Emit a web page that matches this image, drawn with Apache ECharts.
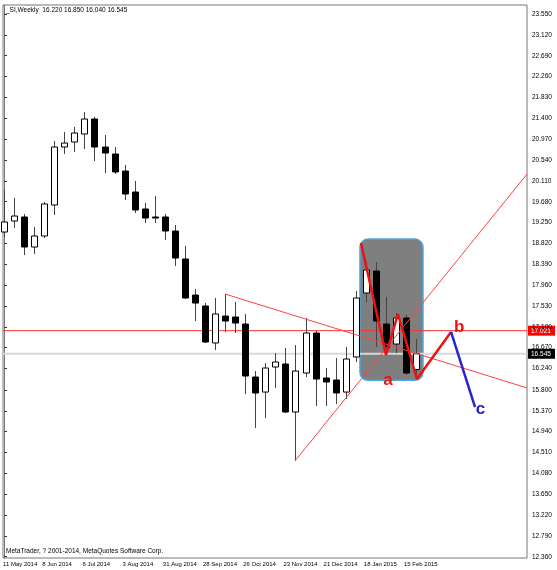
<!DOCTYPE html>
<html><head><meta charset="utf-8">
<script src="https://cdn.jsdelivr.net/npm/echarts@6/dist/echarts.min.js"></script>
<style>html,body{margin:0;padding:0;background:#fff}#c{width:557px;height:570px}</style>
</head><body><div id="c"></div>
<script>
// weekly candles, index 0 = 11 May 2014
const opens  = [19.055,19.282,19.365,18.746,18.973,19.612,20.808,20.911,21.076,21.385,20.808,20.664,20.313,19.880,19.530,19.365,19.365,19.076,18.499,17.756,17.530,16.767,17.323,17.303,17.158,16.066,15.756,16.272,16.334,15.344,16.148,16.973,16.045,16.004,15.756,16.478,17.798,18.251,17.158,16.746,17.282,16.220];
const closes = [19.262,19.385,18.746,18.973,19.633,20.808,20.890,21.097,21.385,20.808,20.684,20.293,19.839,19.509,19.344,19.344,19.076,18.519,17.695,17.591,16.787,17.365,17.220,17.179,16.086,15.736,16.251,16.375,15.344,16.189,16.973,16.024,15.963,15.736,16.437,17.695,18.272,17.220,16.664,17.282,16.148,16.545];
const lows   = [18.952,19.138,18.581,18.602,18.932,19.406,20.664,20.705,20.767,20.519,20.272,20.251,19.715,19.447,19.241,19.241,18.890,18.354,17.674,17.220,16.767,16.622,16.993,16.973,15.715,15.014,15.220,15.839,15.323,14.334,16.066,15.468,15.468,15.509,15.612,16.375,17.612,16.684,16.622,16.560,16.107,16.040];
const highs  = [19.921,19.756,19.427,19.158,19.674,20.932,21.117,21.220,21.530,21.427,21.055,20.808,20.437,20.107,19.653,19.798,19.427,19.200,18.767,17.880,17.591,17.695,17.777,17.612,17.365,16.189,16.354,16.560,16.664,16.725,17.282,17.014,16.251,16.457,16.684,17.839,18.437,18.437,17.715,17.385,17.344,16.850];
const dateTicks = [0,4,8,12,16,20,24,28,32,36,40];
const dateLabels = ['11 May 2014','8 Jun 2014','6 Jul 2014','3 Aug 2014','31 Aug 2014','28 Sep 2014','26 Oct 2014','23 Nov 2014','21 Dec 2014','18 Jan 2015','15 Feb 2015'];
const priceTicks = [12.360,12.790,13.220,13.650,14.080,14.510,14.940,15.370,15.800,16.240,16.670,17.100,17.530,17.960,18.390,18.820,19.250,19.680,20.110,20.540,20.970,21.400,21.830,22.260,22.690,23.120,23.550];
const hLineRed = 17.021, hLineGray = 16.545;
const trend1 = [[22,17.777],[52.04,15.84]];
const trend2 = [[28.95,14.334],[52.04,20.25]];
const zigzag = [[35.52,18.830],[38.01,16.520],[39.2,17.365],[41.09,16.025],[44.48,16.994]];
const waveC = [[44.48,16.994],[46.87,15.447]];
const box = [35.42,41.69,16.00,18.91];
const waveLabels = [{t:'a',x:38.2,y:16.00,c:'#ee1111'},{t:'b',x:45.3,y:17.10,c:'#ee1111'},{t:'c',x:47.4,y:15.40,c:'#2222cc'}];

const candles = opens.map((o,i)=>[i,o,closes[i],lows[i],highs[i]]);
const YMIN=12.334;
const chart = echarts.init(document.getElementById('c'));
chart.setOption({
  animation:false,
  grid:{left:3,right:30,top:5,bottom:12,show:true,borderColor:'#777',borderWidth:1},
  xAxis:{type:'value',min:-0.1,max:52.04,splitLine:{show:false},axisLine:{show:false},axisTick:{show:false},axisLabel:{show:false}},
  yAxis:{type:'value',position:'right',min:YMIN,max:23.736,splitLine:{show:false},
    axisLine:{show:true,lineStyle:{color:'#777'}},
    axisTick:{show:true,customValues:priceTicks,length:3,lineStyle:{color:'#333'}},
    axisLabel:{customValues:priceTicks,formatter:v=>v.toFixed(3),fontSize:6.5,fontFamily:'Liberation Sans',color:'#000',margin:5}},
  series:[
    {type:'custom',z:1,data:[box],renderItem:(p,api)=>{
      const a=api.coord([api.value(0),api.value(3)]),b=api.coord([api.value(1),api.value(2)]);
      return {type:'rect',shape:{x:a[0],y:a[1],width:b[0]-a[0],height:b[1]-a[1],r:8},
        style:{fill:'#7f7f7f',stroke:'#4ea6dc',lineWidth:1.5}};}},
    {type:'line',z:2,data:[[-0.1,hLineGray],[52.04,hLineGray]],symbol:'none',lineStyle:{color:'#d8d8d8',width:2},silent:true},
    {type:'line',z:2,data:[[-0.1,hLineRed],[52.04,hLineRed]],symbol:'none',lineStyle:{color:'#ff3030',width:1}},
    {type:'custom',z:3,data:candles,renderItem:(p,api)=>{
      const x=api.value(0),o=api.value(1),c=api.value(2),l=api.value(3),h=api.value(4);
      const po=api.coord([x,o]),pc=api.coord([x,c]),pl=api.coord([x,l]),ph=api.coord([x,h]);
      const w=6, top=Math.min(po[1],pc[1]), ht=Math.max(1,Math.abs(po[1]-pc[1]));
      const up=c>=o;
      return {type:'group',children:[
        {type:'line',shape:{x1:Math.round(po[0])+0.5,y1:ph[1],x2:Math.round(po[0])+0.5,y2:pl[1]},style:{stroke:'#444',lineWidth:1}},
        {type:'rect',shape:{x:Math.round(po[0]-w/2)+0.5,y:top,width:w,height:ht},style:{fill:up?'#fff':'#000',stroke:'#000',lineWidth:1}}
      ]};}},
    {type:'custom',z:3,clip:false,data:dateTicks.map(v=>[v,YMIN]),renderItem:(p,api)=>{
      const pt=api.coord([api.value(0),api.value(1)]);
      return {type:'text',style:{x:Math.max(pt[0]-2,3),y:pt[1]+3,text:dateLabels[p.dataIndex],font:'6px Liberation Sans',fill:'#000',align:'left',verticalAlign:'top'}};}},
    {type:'line',z:4,data:trend1,symbol:'none',lineStyle:{color:'#ff4040',width:1}},
    {type:'line',z:4,data:trend2,symbol:'none',lineStyle:{color:'#ff4040',width:1}},
    {type:'line',z:5,data:zigzag,symbol:'none',lineStyle:{color:'#ee1111',width:2.5}},
    {type:'line',z:5,data:waveC,symbol:'none',lineStyle:{color:'#2727c8',width:2.5}},
    {type:'custom',z:6,data:waveLabels.map(d=>[d.x,d.y]),renderItem:(p,api)=>{
      const d=waveLabels[p.dataIndex],pt=api.coord([api.value(0),api.value(1)]);
      return {type:'text',style:{x:pt[0],y:pt[1],text:d.t,fill:d.c,font:'bold 17px Arial, Liberation Sans',align:'center',verticalAlign:'middle'}};}}
  ]
});
function tag(v,bg){const y=chart.convertToPixel({gridIndex:0},[0,v])[1];
  return {type:'group',x:528,y:y-5,z:100,children:[{type:'rect',shape:{x:0,y:0,width:27,height:10},style:{fill:bg}},
    {type:'text',style:{x:3,y:2,text:v.toFixed(3),font:'6.5px Liberation Sans',fill:'#fff'}}]};}
chart.setOption({graphic:[
  {type:'text',left:6,top:7,style:{text:'_SI,Weekly  16.220 16.850 16.040 16.545',font:'6.5px Liberation Sans',fill:'#000'}},
  {type:'text',left:6,top:548,style:{text:'MetaTrader, ? 2001-2014, MetaQuotes Software Corp.',font:'6.5px Liberation Sans',fill:'#000'}},
  tag(hLineRed,'#ff0000'),tag(hLineGray,'#000')]});
</script></body></html>
